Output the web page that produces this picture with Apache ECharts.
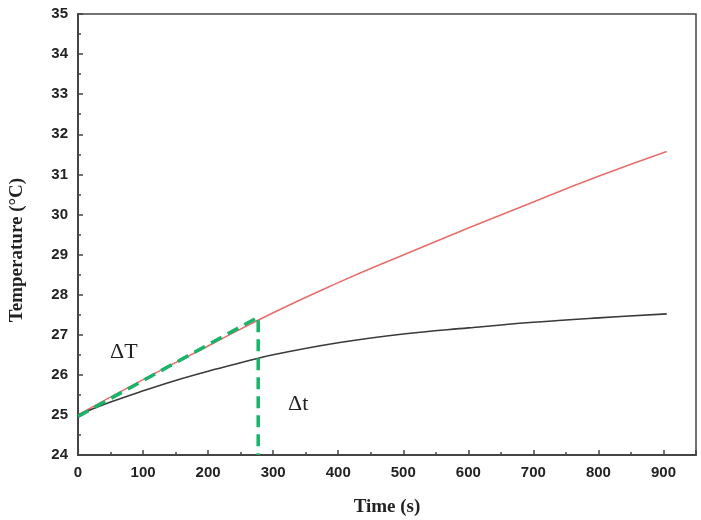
<!DOCTYPE html>
<html>
<head>
<meta charset="utf-8">
<script src="https://cdn.jsdelivr.net/npm/echarts@6/dist/echarts.min.js"></script>
<style>html,body{margin:0;padding:0;background:#fff;}#chart{width:701px;height:520px;}</style>
</head>
<body>
<div id="chart"></div>
<script>
// Data
const redTime = [0, 100, 200, 300, 400, 500, 600, 700, 800, 905];
const redTemp = [25.0, 25.88, 26.72, 27.55, 28.3, 28.99, 29.66, 30.31, 30.95, 31.57];
const blackTime = [0, 50, 100, 150, 200, 250, 300, 400, 500, 600, 700, 800, 905];
const blackTemp = [25.0, 25.32, 25.6, 25.86, 26.09, 26.3, 26.5, 26.8, 27.02, 27.17, 27.31, 27.42, 27.52];
const greenTime = [0, 277, 277];
const greenTemp = [24.96, 27.44, 24.0];
const xTicks = [0, 100, 200, 300, 400, 500, 600, 700, 800, 900];
const yTicks = [24, 25, 26, 27, 28, 29, 30, 31, 32, 33, 34, 35];

const zip = (a, b) => a.map((v, i) => [v, b[i]]);

const chart = echarts.init(document.getElementById('chart'), null, {renderer: 'canvas'});
const tickLabel = {fontFamily: 'Liberation Sans, Arial, sans-serif', fontWeight: 'bold', fontSize: 15, color: '#222'};
chart.setOption({
  animation: false,
  backgroundColor: '#fff',
  grid: {left: 78, top: 14, right: 5, bottom: 65, show: true, borderColor: '#444', borderWidth: 1.5, backgroundColor: 'transparent'},
  xAxis: {
    type: 'value', min: xTicks[0], max: 950, interval: 100,
    axisLine: {show: true, lineStyle: {color: '#444', width: 2}},
    axisTick: {show: true, inside: true, length: 5, lineStyle: {color: '#444', width: 1.5}},
    minorTick: {show: true, splitNumber: 2, length: 3, lineStyle: {color: '#444', width: 1.5}},
    splitLine: {show: false},
    axisLabel: Object.assign({margin: 10, showMaxLabel: false, formatter: v => xTicks.includes(v) ? String(v) : ''}, tickLabel)
  },
  yAxis: {
    type: 'value', min: yTicks[0], max: yTicks[yTicks.length - 1], interval: 1,
    axisLine: {show: true, lineStyle: {color: '#444', width: 2}},
    axisTick: {show: true, inside: true, length: 5, lineStyle: {color: '#444', width: 1.5}},
    minorTick: {show: true, splitNumber: 2, length: 3, lineStyle: {color: '#444', width: 1.5}},
    splitLine: {show: false},
    axisLabel: Object.assign({margin: 10}, tickLabel)
  },
  series: [
    {type: 'line', data: zip(redTime, redTemp), smooth: 0.5, showSymbol: false, lineStyle: {color: '#e66f6c', width: 1.6}, z: 3},
    {type: 'line', data: zip(blackTime, blackTemp), smooth: 0.4, showSymbol: false, lineStyle: {color: '#3a3a3a', width: 1.6}, z: 3},
    {type: 'line', data: zip(greenTime, greenTemp), showSymbol: false, lineStyle: {color: '#17b46a', width: 3.5, type: [12, 7]}, z: 4}
  ],
  graphic: [
    {type: 'text', left: 110, top: 341, style: {text: '\u0394T', font: '22px "Liberation Serif", "Times New Roman", serif', fill: '#222'}},
    {type: 'text', left: 288, top: 393, style: {text: '\u0394t', font: '22px "Liberation Serif", "Times New Roman", serif', fill: '#222'}},
    {type: 'text', x: 387, y: 507, style: {text: 'Time (s)', font: 'bold 19px "Liberation Serif", "Times New Roman", serif', fill: '#222', align: 'center', verticalAlign: 'middle'}},
    {type: 'text', x: 17, y: 250, rotation: Math.PI / 2, style: {text: 'Temperature (\u00B0C)', font: 'bold 19px "Liberation Serif", "Times New Roman", serif', fill: '#222', align: 'center', verticalAlign: 'middle'}}
  ]
});
</script>
</body>
</html>
